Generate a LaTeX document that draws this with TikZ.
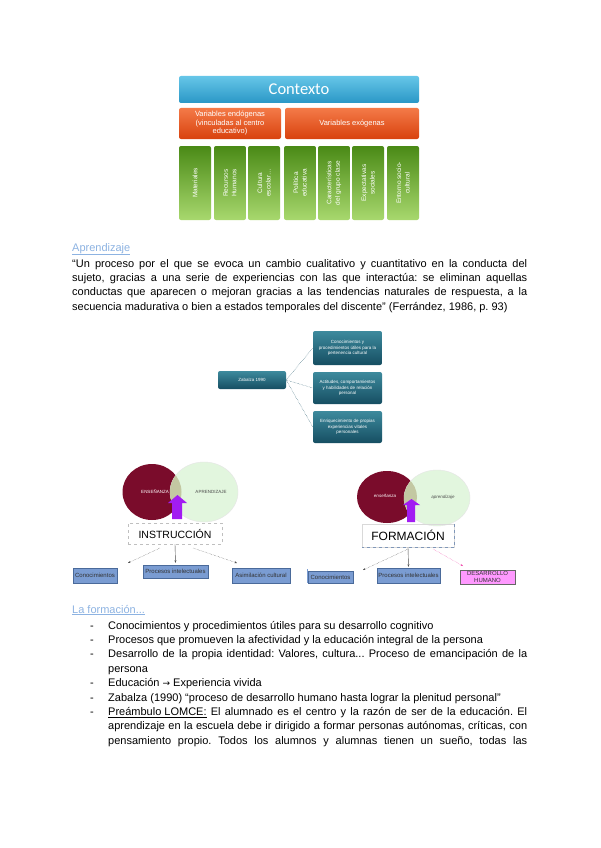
\documentclass[tikz,border=0pt]{standalone}
\usepackage{fontspec}
\setmainfont{Liberation Sans}
\newfontfamily\calib{Carlito}
\newfontfamily\dejav{DejaVu Sans}
\usetikzlibrary{arrows.meta,shapes.geometric,calc}
\frenchspacing
\definecolor{ctxa}{HTML}{66C6E8}
\definecolor{ctxb}{HTML}{2A97C6}
\definecolor{ora}{HTML}{F47A48}
\definecolor{orb}{HTML}{D8420E}
\definecolor{gra}{HTML}{4A8A16}
\definecolor{grb}{HTML}{A8D86E}
\definecolor{tla}{HTML}{3D8A9D}
\definecolor{tlb}{HTML}{164E62}
\definecolor{vred}{HTML}{7A0C2B}
\definecolor{vgreen}{HTML}{E2F6DE}
\definecolor{vmix}{HTML}{C3C8A2}
\definecolor{vpurp}{HTML}{A21CF2}
\definecolor{bfill}{HTML}{7A9CD2}
\definecolor{bline}{HTML}{4A6A9A}
\definecolor{pfill}{HTML}{FF99FF}
\definecolor{linkc}{HTML}{8DB3E2}
\tikzset{
  ctxbox/.style={rounded corners=2pt,inner sep=1pt,align=center,text=white},
  grbox/.style={ctxbox,top color=gra,bottom color=grb,minimum width=32pt,minimum height=74pt},
  orbox/.style={ctxbox,top color=ora,bottom color=orb,minimum height=31pt,font=\fontsize{7.5}{8.5}\selectfont},
  tlbox/.style={ctxbox,top color=tla,bottom color=tlb,font=\fontsize{4.5}{5.5}\selectfont},
  bbox/.style={draw=bline,fill=bfill,inner sep=0.5pt,align=center,font=\fontsize{6}{6.5}\selectfont,text=black!80},
  vlab/.style={inner sep=0pt,font=\fontsize{4.5}{5}\selectfont},
  dlink/.style={densely dotted,tlb},
  darr/.style={-{Stealth[length=2.5pt,width=2pt]},densely dotted,black!70},
  body/.style={inner sep=0pt,align=justify,font=\fontsize{11}{14.4}\selectfont}
}
\begin{document}
\begin{tikzpicture}[x=1pt,y=-1pt]
\useasboundingbox[fill=white] (0,0) rectangle (600,848);
% contexto
\node[ctxbox,top color=ctxa,bottom color=ctxb,minimum width=240pt,minimum height=27pt,font=\calib\fontsize{16.5}{18}\selectfont] (ctx) at (299,89.5) {Contexto};
\node[orbox,minimum width=102pt] (endo) at (230,123.5) {Variables endógenas\\(vinculadas al centro\\educativo)};
\node[orbox,minimum width=134pt] (exo) at (352,123.5) {Variables exógenas};
\foreach \x/\lab [count=\i] in {195/Materiales,230/Recursos\\Humanos,264/Cultura\\escolar\ldots,300/Política\\educativa,334/Características\\del grupo clase,368/Expectativas\\sociales,403/Entorno socio-\\cultural}{
  \node[grbox] (g\i) at (\x,183) {};
  \node[rotate=90,align=center,text=white,inner sep=0pt,font=\fontsize{6.5}{8.5}\selectfont] (gl\i) at (g\i) {\lab};
}
% aprendizaje
\node[anchor=base west,inner sep=0pt,text=linkc,font=\fontsize{11}{14.4}\selectfont] (apr) at (72,251) {\underline{Aprendizaje}};
\node[body,anchor=base west,text width=455pt] (cita) at (72,267) {“Un proceso por el que se evoca un cambio cualitativo y cuantitativo en la conducta del\linebreak sujeto, gracias a una serie de experiencias con las que interactúa: se eliminan aquellas\linebreak conductas que aparecen o mejoran gracias a las tendencias naturales de respuesta, a la\linebreak secuencia madurativa o bien a estados temporales del discente” (Ferrández, 1986, p.~93)};
% zabalza
\node[tlbox,minimum width=68pt,minimum height=18pt] (zab) at (252,380) {Zabalza 1990};
\node[tlbox,minimum width=69pt,minimum height=34pt] (z1) at (347.5,348) {Conocimientos y\\procedimientos útiles para la\\pertenencia cultural};
\node[tlbox,minimum width=69pt,minimum height=32pt] (z2) at (347.5,388) {Actitudes, comportamientos\\y habilidades de relación\\personal};
\node[tlbox,minimum width=69pt,minimum height=32pt] (z3) at (347.5,427) {Enriquecimiento de propias\\experiencias vitales\\personales};
\foreach \t in {z1,z2,z3} \draw[dlink] (zab.east) -- (\t.west);
% instruccion
\fill[vred] (152,492) ellipse [x radius=29.5,y radius=28];
\fill[vgreen] (204,492) ellipse [x radius=34,y radius=30];
\draw[black!10] (204,492) ellipse [x radius=34,y radius=30];
\begin{scope}
  \clip (152,492) ellipse [x radius=29.5,y radius=28];
  \fill[vmix] (204,492) ellipse [x radius=34,y radius=30];
\end{scope}
\node[vlab,text=white] (ens1) at (155,492) {ENSEÑANZA};
\node[vlab,text=black!70] (apr1) at (211,492) {APRENDIZAJE};
\fill[vpurp] (172,519) -- (172,503) -- (168,503) -- (177.5,495) -- (187,503) -- (182,503) -- (182,519) -- cycle;
\node[draw=black!25,dashed,minimum width=94pt,minimum height=21pt,inner sep=0pt,font=\fontsize{10.5}{12}\selectfont] (instr) at (175,533.5) {INSTRUCCIÓN};
\node[bbox,minimum width=44pt,minimum height=15pt] (ic) at (95,575.5) {Conocimientos};
\node[bbox,minimum width=65pt,minimum height=13pt] (ip) at (175.5,571.5) {Procesos intelectuales};
\node[bbox,minimum width=58pt,minimum height=15pt] (ia) at (261,575.5) {Asimilación cultural};
\draw[bfill,line width=1.2pt] (307.5,569) -- (307.5,583);
\coordinate (ic0) at (160,548);
\coordinate (ic1) at (128,563);
\coordinate (ia0) at (193,548);
\coordinate (ia1) at (237,563);
\draw[darr] (ic0) -- (ic1);
\draw[darr,solid] (instr.south) -- ($(ip.north)+(0,-2)$);
\draw[darr] (ia0) -- (ia1);
% formacion
\fill[vred] (387,497) ellipse [x radius=30,y radius=26];
\fill[vgreen] (437,498) ellipse [x radius=33,y radius=28];
\draw[black!10] (437,498) ellipse [x radius=33,y radius=28];
\begin{scope}
  \clip (387,497) ellipse [x radius=30,y radius=26];
  \fill[vmix] (437,498) ellipse [x radius=33,y radius=28];
\end{scope}
\node[vlab,text=white,font=\itshape\fontsize{4.5}{5}\selectfont] (ens2) at (385,496) {enseñanza};
\node[vlab,text=black!70,font=\itshape\fontsize{4.5}{5}\selectfont] (apr2) at (443,497) {aprendizaje};
\fill[vpurp] (407,522) -- (407,505) -- (403,505) -- (411.5,499) -- (420,505) -- (415,505) -- (415,522) -- cycle;
\node[draw=black!15,minimum width=92pt,minimum height=23pt,inner sep=0pt,font=\fontsize{12}{14}\selectfont] (form) at (408,535.5) {FORMACIÓN};
\draw[bline!70,dashed] (form.north east) -- (form.south east) -- (form.south west);
\node[bbox,minimum width=45pt,minimum height=12pt] (fc) at (330.5,577) {Conocimientos};
\node[bbox,minimum width=63pt,minimum height=15pt] (fp) at (408.5,575.5) {Procesos intelectuales};
\node[bbox,draw=black!60,fill=pfill,minimum width=55pt,minimum height=14pt] (fd) at (487.5,577) {DESARROLLO\\HUMANO};
\coordinate (fc0) at (408,549);
\coordinate (fc1) at (363,570);
\coordinate (fd0) at (433,549);
\coordinate (fd1) at (463,566);
\draw[darr] (fc0) -- (fc1);
\draw[darr,solid] (form.south) -- ($(fp.north)+(0,-1)$);
\draw[darr,magenta!70] (fd0) -- (fd1);
% la formacion
\node[anchor=base west,inner sep=0pt,text=linkc,font=\fontsize{11}{14.4}\selectfont] (lf) at (72,613) {\underline{La formación...}};
\foreach \y/\n in {629/1,643.4/2,657.8/3,686.6/4,701/5,715.4/6}
  \node[anchor=base west,inner sep=0pt,font=\fontsize{11}{14.4}\selectfont] (d\n) at (90,\y) {-};
\node[body,anchor=base west,text width=419pt] (it1) at (108,629) {Conocimientos y procedimientos útiles para su desarrollo cognitivo};
\node[body,anchor=base west,text width=419pt] (it2) at (108,643.4) {Procesos que promueven la afectividad y la educación integral de la persona};
\node[body,anchor=base west,text width=419pt] (it3) at (108,657.8) {Desarrollo de la propia identidad: Valores, cultura... Proceso de emancipación de la\linebreak persona};
\node[body,anchor=base west,text width=419pt] (it4) at (108,686.6) {Educación {\dejav\fontsize{9}{10}\selectfont →} Experiencia vivida};
\node[body,anchor=base west,text width=419pt] (it5) at (108,701) {Zabalza (1990) “proceso de desarrollo humano hasta lograr la plenitud personal”};
\node[body,anchor=base west,text width=419pt] (it6) at (108,715.4) {\underline{Preámbulo LOMCE:} El alumnado es el centro y la razón de ser de la educación. El\linebreak aprendizaje en la escuela debe ir dirigido a formar personas autónomas, críticas, con\linebreak pensamiento propio. Todos los alumnos y alumnas tienen un sueño, todas las\linebreak};
\end{tikzpicture}
\end{document}
